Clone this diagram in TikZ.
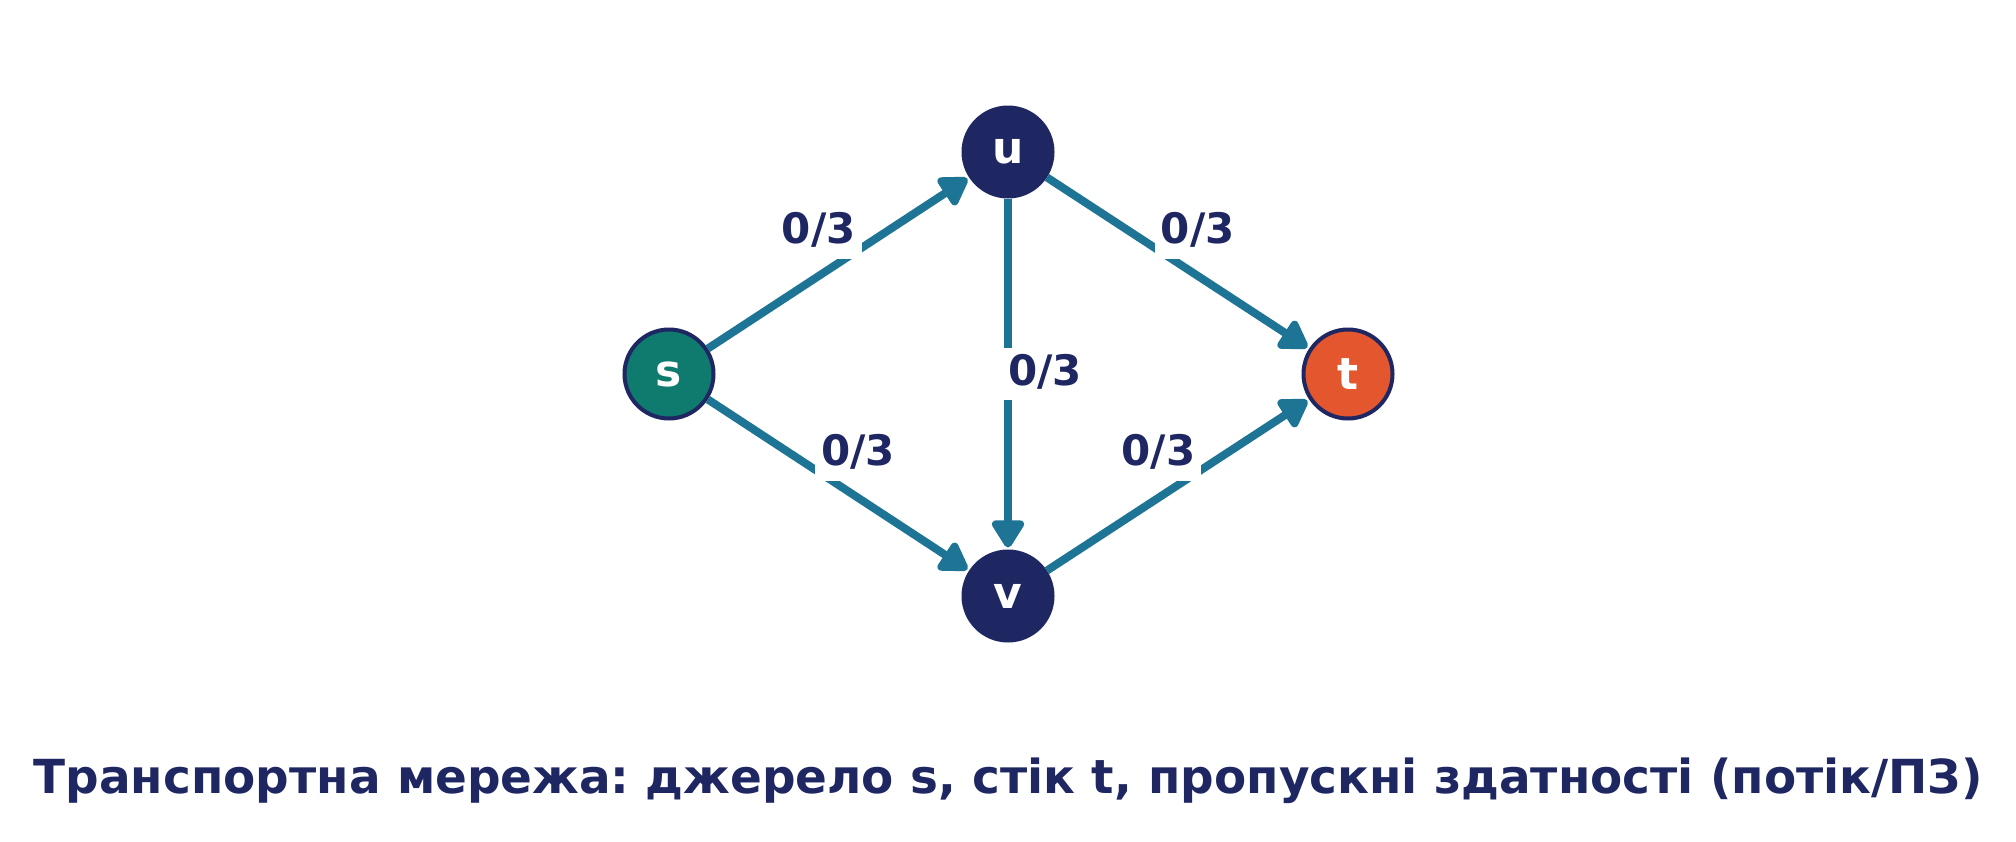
\documentclass[tikz,border=0pt]{standalone}
\usepackage{fontspec}
\setmainfont{DejaVu Sans Bold}
\frenchspacing
\usetikzlibrary{arrows.meta,calc}
\definecolor{navy}{HTML}{1F2763}
\definecolor{edgec}{HTML}{1E7494}
\definecolor{srcc}{HTML}{0F7A6E}
\definecolor{sinkc}{HTML}{E4572E}
\tikzset{
  vert/.style={circle, minimum size=89pt, inner sep=0pt, line width=4pt, draw=navy,
    text=white, font=\fontsize{44}{44}\selectfont},
  srcnode/.style={vert, fill=srcc},
  sinknode/.style={vert, fill=sinkc},
  midnode/.style={vert, fill=navy},
  flowedge/.style={draw=edgec, line width=8pt, shorten >=2pt, -{Triangle[length=31pt,width=36pt,round]}},
  flowlabel/.style={fill=white, inner xsep=6pt, inner ysep=5pt, text height=32pt, text depth=10pt,
    text=navy, font=\fontsize{42}{42}\selectfont},
  captionstyle/.style={anchor=base, text=navy, inner sep=0pt, font=\fontsize{46.9}{46.9}\selectfont}
}
\begin{document}
\begin{tikzpicture}[x=1pt,y=-1pt]
\useasboundingbox[fill=white] (0,0) rectangle (2016,841);
\node[srcnode] (s) at (669,374) {s};
\node[midnode] (u) at (1008,152) {u};
\node[midnode] (v) at (1008,596) {v};
\node[sinknode] (t) at (1348,374) {t};
\draw[flowedge] (s) -- (u);
\draw[flowedge] (s) -- (v);
\draw[flowedge] (u) -- (t);
\draw[flowedge] (v) -- (t);
\draw[flowedge] (u) -- (v);
\node[flowlabel] (lsu) at ($(s.center)!0.5!(u.center)!36pt!90:(u.center)$) {0/3};
\node[flowlabel] (lsv) at ($(s.center)!0.5!(v.center)!36pt!90:(v.center)$) {0/3};
\node[flowlabel] (lut) at ($(u.center)!0.5!(t.center)!36pt!90:(t.center)$) {0/3};
\node[flowlabel] (lvt) at ($(v.center)!0.5!(t.center)!36pt!90:(t.center)$) {0/3};
\node[flowlabel] (luv) at ($(u.center)!0.5!(v.center)!37pt!90:(v.center)$) {0/3};
\node[captionstyle] (caption) at (1008,793) {Транспортна мережа: джерело s, стік t, пропускні здатності (потік/ПЗ)};
\end{tikzpicture}
\end{document}
